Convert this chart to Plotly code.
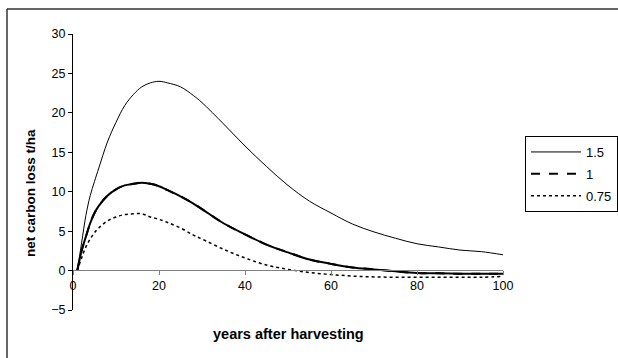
import plotly.graph_objects as go

years = [1, 2, 3, 4, 5, 6, 8, 10, 12, 14, 16, 18, 20, 22, 25, 28, 30, 35, 40, 45,
         50, 55, 60, 65, 70, 75, 80, 85, 90, 95, 100]
loss_15 = [0, 3.5, 7.0, 9.5, 11.3, 13.0, 16.3, 18.8, 20.9, 22.3, 23.3, 23.8, 24.0, 23.8,
           23.3, 22.2, 21.3, 18.6, 15.8, 13.2, 10.8, 8.8, 7.3, 5.9, 4.9, 4.1, 3.4, 3.0,
           2.6, 2.4, 2.0]
loss_1 = [0, 2.5, 4.3, 6.0, 7.3, 8.2, 9.5, 10.3, 10.8, 11.0, 11.15, 11.0, 10.7, 10.2,
          9.4, 8.5, 7.8, 6.0, 4.6, 3.3, 2.3, 1.4, 0.85, 0.4, 0.15, -0.1, -0.3, -0.35,
          -0.4, -0.4, -0.4]
loss_075 = [0, 1.6, 3.0, 4.0, 4.8, 5.4, 6.3, 6.8, 7.1, 7.2, 7.2, 6.8, 6.5, 6.1, 5.4,
            4.5, 4.0, 2.7, 1.6, 0.7, 0.15, -0.25, -0.5, -0.7, -0.8, -0.85, -0.85, -0.85,
            -0.85, -0.85, -0.75]
names = ["1.5", "1", "0.75"]

fig = go.Figure()
fig.add_trace(go.Scatter(x=years, y=loss_15, name=names[0], mode="lines", legendgroup="a",
                         line=dict(color="black", width=1, shape="spline")))
fig.add_trace(go.Scatter(x=years, y=loss_1, name=names[1], mode="lines", showlegend=False,
                         legendgroup="b",
                         line=dict(color="black", width=2, shape="spline"), hoverinfo="skip"))
fig.add_trace(go.Scatter(x=years, y=loss_1, name=names[1], mode="lines", legendgroup="b",
                         line=dict(color="black", width=2, dash="dash", shape="spline")))
fig.add_trace(go.Scatter(x=years, y=loss_075, name=names[2], mode="lines", legendgroup="c",
                         line=dict(color="black", width=1.5, dash="dot", shape="spline")))

font = "Liberation Sans, Arial, sans-serif"
W, H = 618, 358
px_x = lambda p: (p - 73) / 430
px_y = lambda p: (310 - p) / 276
fig.update_layout(
    width=W, height=H,
    margin=dict(l=73, r=115, t=34, b=48),
    paper_bgcolor="white", plot_bgcolor="white",
    font=dict(family=font, size=12, color="black"),
    showlegend=True,
    legend=dict(xref="container", yref="container",
                x=1.0, xanchor="right", y=1 - 136 / H, yanchor="top",
                bordercolor="black", borderwidth=1, bgcolor="white",
                font=dict(size=13), itemwidth=50,
                traceorder="grouped", tracegroupgap=2),
    xaxis=dict(range=[0, 100], tickvals=[0, 20, 40, 60, 80, 100],
               anchor="free", position=px_y(270),
               showgrid=False, zeroline=False, showline=True, linecolor="#808080",
               linewidth=1, ticks="outside", ticklen=4, tickcolor="#808080",
               tickfont=dict(size=12.5), automargin=False),
    yaxis=dict(range=[-5, 30], tickvals=[-5, 0, 5, 10, 15, 20, 25, 30],
               showgrid=False, zeroline=False, showline=True, linecolor="black",
               linewidth=1, ticks="outside", ticklen=4, tickcolor="black",
               tickfont=dict(size=12.5), automargin=False),
    annotations=[
        dict(text="<b>years after harvesting</b>", xref="paper", yref="paper",
             x=px_x(288), y=px_y(334), xanchor="center", yanchor="middle",
             showarrow=False, font=dict(size=14.5)),
        dict(text="<b>net carbon loss t/ha</b>", xref="paper", yref="paper",
             x=px_x(30), y=px_y(193), xanchor="center", yanchor="middle",
             textangle=-90, showarrow=False, font=dict(size=13.5)),
    ],
    shapes=[
        dict(type="line", xref="paper", yref="paper",
             x0=px_x(7), x1=px_x(7), y0=px_y(9), y1=px_y(400),
             line=dict(color="#333333", width=1.5), layer="below"),
        dict(type="line", xref="paper", yref="paper",
             x0=px_x(7), x1=px_x(700), y0=px_y(9), y1=px_y(9),
             line=dict(color="#333333", width=1.5), layer="below"),
    ],
)
fig.write_html("out.html")
